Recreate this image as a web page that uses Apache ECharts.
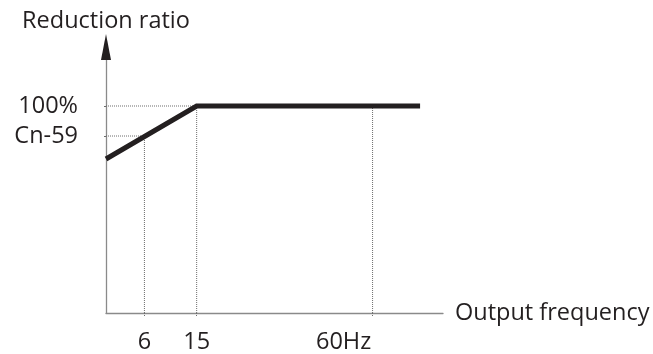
<!DOCTYPE html>
<html>
<head>
<meta charset="utf-8">
<script src="https://cdn.jsdelivr.net/npm/echarts@6/dist/echarts.min.js"></script>
<style>
html,body{margin:0;padding:0;background:#fff;}
#chart{width:653px;height:354px;}
</style>
</head>
<body>
<div id="chart"></div>
<script>
// Schematic abscissa (axis units) for the frequency tick marks
var freqLabels = ['6', '15', '60Hz'];
var freqPos = [11.4, 26.9, 79.1];
// Reduction ratio tick marks (percent)
var ratioLabels = ['Cn-59', '100%'];
var ratioVals = [85.5, 100];
// Characteristic curve
var curveX = [0, 26.9, 93.2];
var curveY = [74.4, 100, 100];

var FONT = '"Open Sans", sans-serif';
var FS = 23.5;
var TXT = '#231f20';
var GUIDE = '#6d6d6d';

var chart = echarts.init(document.getElementById('chart'), null, {renderer: 'canvas'});

var curveData = curveX.map(function (x, i) { return [x, curveY[i]]; });

// Dotted guide lines
var guides = [];
guides.push([[0, ratioVals[0]], [freqPos[0], ratioVals[0]]]);
guides.push([[0, ratioVals[1]], [freqPos[1], ratioVals[1]]]);
guides.push([[freqPos[0], 0], [freqPos[0], ratioVals[0]]]);
guides.push([[freqPos[1], 0], [freqPos[1], ratioVals[1]]]);
guides.push([[freqPos[2], 0], [freqPos[2], ratioVals[1]]]);

var series = guides.map(function (g) {
  return {
    type: 'line', data: g, symbol: 'none', silent: true, animation: false,
    lineStyle: {color: GUIDE, width: 1, type: [1, 1]}, z: 1
  };
});
series.push({
  type: 'line', data: curveData, symbol: 'none', animation: false,
  lineStyle: {color: TXT, width: 5, join: 'miter', cap: 'butt'}, z: 5
});

var labelMap = {};
freqPos.forEach(function (p, i) { labelMap[p] = freqLabels[i]; });
var yMap = {};
ratioVals.forEach(function (v, i) { yMap[v] = ratioLabels[i]; });

chart.setOption({
  backgroundColor: '#fff',
  animation: false,
  grid: {left: 106, right: 210, top: 47, bottom: 41},
  xAxis: {
    type: 'value', min: 0, max: 100,
    splitLine: {show: false},
    axisLine: {show: true, lineStyle: {color: '#8a8a8a', width: 1.3}},
    axisTick: {show: true, customValues: freqPos, length: 4, lineStyle: {color: GUIDE, type: [1, 1]}},
    axisLabel: {
      show: true, customValues: freqPos, margin: 17,
      fontFamily: FONT, fontSize: FS, color: TXT,
      formatter: function (v) {
        var t = labelMap[v];
        if (t === '60Hz') return '{r|' + t + '}';
        return t;
      },
      rich: {r: {fontFamily: FONT, fontSize: FS, color: TXT, padding: [0, 58, 0, 0]}}
    },
    name: 'Output frequency', nameLocation: 'end', nameGap: 12,
    nameTextStyle: {fontFamily: FONT, fontSize: FS, color: TXT, verticalAlign: 'middle', align: 'left'}
  },
  yAxis: [{
    type: 'value', min: 0, max: 128.5,
    splitLine: {show: false},
    axisLine: {show: true, lineStyle: {color: '#8a8a8a', width: 1.3}},
    axisTick: {show: true, customValues: ratioVals, length: 2, lineStyle: {color: GUIDE}},
    axisLabel: {
      show: true, customValues: ratioVals, margin: 28,
      fontFamily: FONT, fontSize: FS, color: TXT,
      formatter: function (v) { return yMap[v]; }
    },
    name: 'Reduction ratio', nameLocation: 'end', nameGap: 14,
    nameTextStyle: {fontFamily: FONT, fontSize: FS, color: TXT, align: 'center'}
  }, {
    type: 'value', min: 0, max: 128.5, position: 'left',
    splitLine: {show: false}, axisTick: {show: false}, axisLabel: {show: false},
    axisLine: {show: true, symbol: ['none', 'triangle'], symbolSize: [10, 26],
      lineStyle: {color: TXT, width: 0}}
  }],
  series: series
});
</script>
</body>
</html>
